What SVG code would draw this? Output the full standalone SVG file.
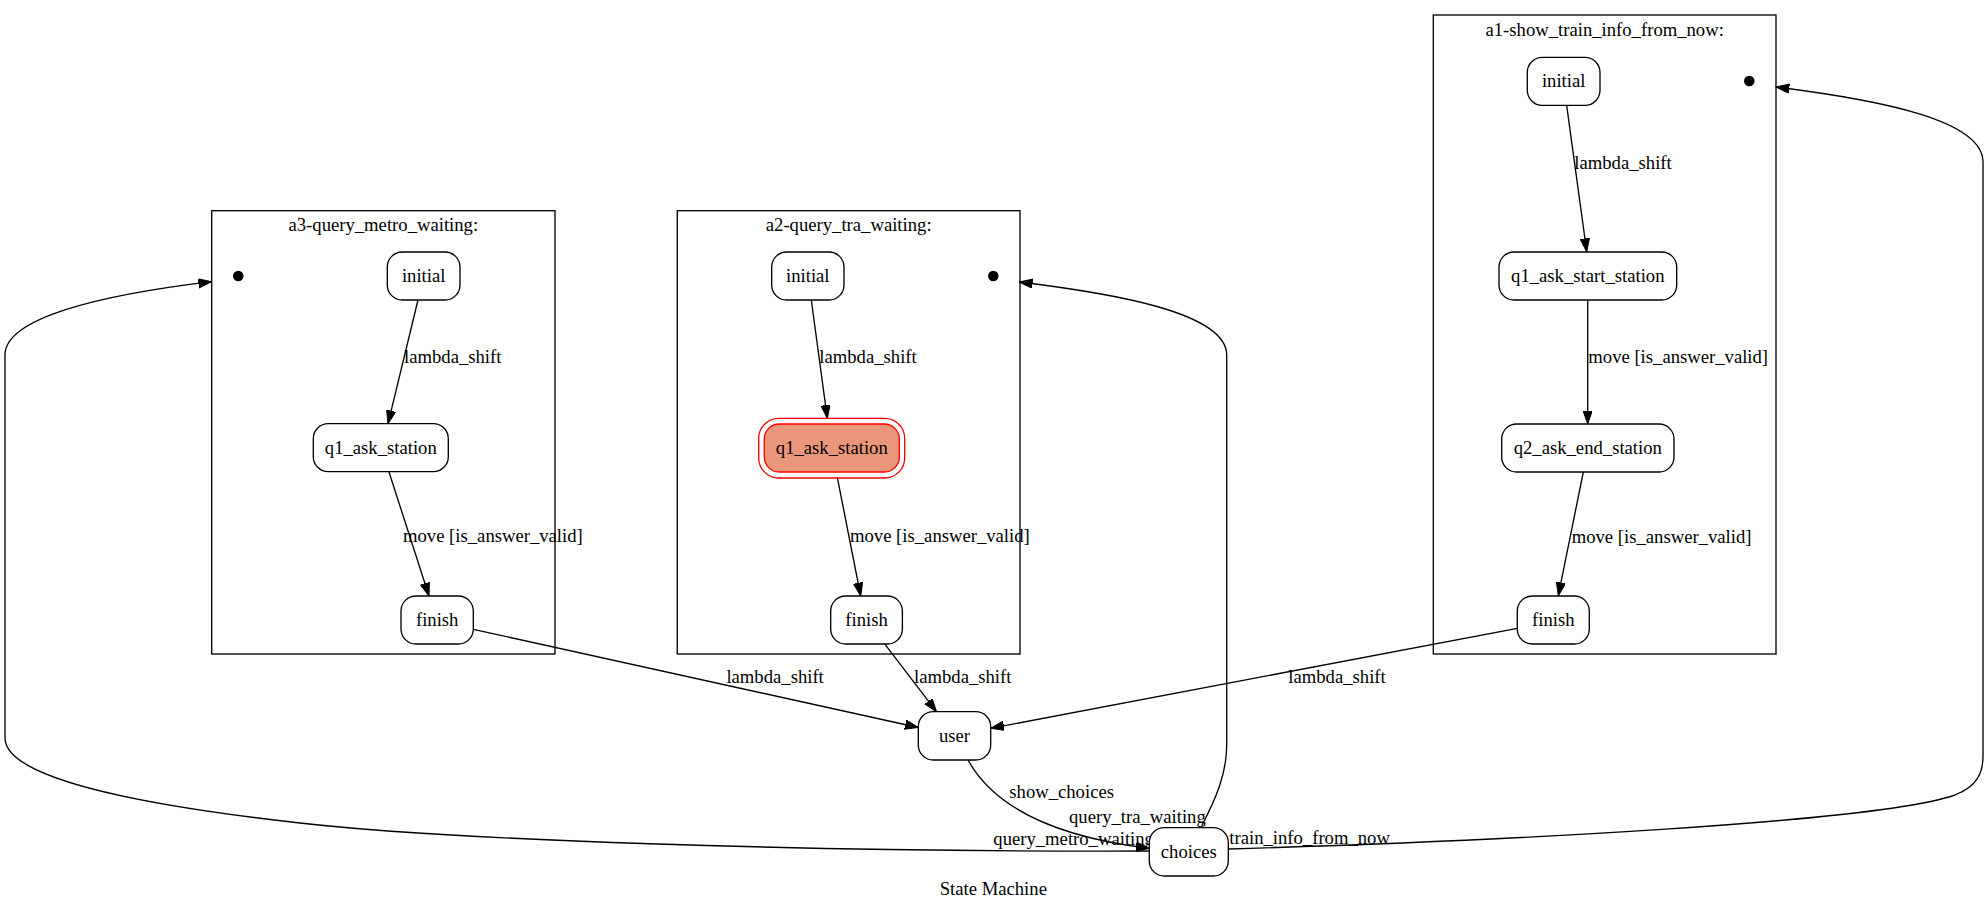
<svg xmlns="http://www.w3.org/2000/svg" width="1988" height="912" viewBox="0 0 1988 912">
<style>
text{font-family:"Liberation Serif","Times New Roman",serif;font-size:18.67px;fill:#000}
.c{text-anchor:middle}
.cl{fill:none;stroke:#000;stroke-width:1.33}
.n{fill:#fff;stroke:#000;stroke-width:1.33}
.e{fill:none;stroke:#000;stroke-width:1.33;marker-end:url(#arr)}
.l{fill:none;stroke:#000;stroke-width:1.33}
</style>
<defs>
<marker id="arr" markerUnits="userSpaceOnUse" markerWidth="14" markerHeight="10" refX="13.3" refY="4.67" orient="auto" viewBox="0 0 14 10">
<path d="M0,0 L13.3,4.67 L0,9.33 z" fill="#000" stroke="#000" stroke-width="1"/>
</marker>
</defs>
<rect width="1988" height="912" fill="#fff"/>

<g id="cluster_a3">
<rect class="cl" x="211.7" y="210.7" width="343.3" height="443.3"/>
<text class="c" x="383.3" y="230.5">a3-query_metro_waiting:</text>
</g>
<g id="cluster_a2">
<rect class="cl" x="677.3" y="210.7" width="342.7" height="443.3"/>
<text class="c" x="848.7" y="230.5">a2-query_tra_waiting:</text>
</g>
<g id="cluster_a1">
<rect class="cl" x="1433.3" y="15" width="342.7" height="639"/>
<text class="c" x="1604.7" y="35.5">a1-show_train_info_from_now:</text>
</g>

<g id="connectors">
<path class="e" d="M418,300 L388,423.7"/>
<text x="404" y="363">lambda_shift</text>
<path class="e" d="M389,472 L429,596"/>
<text x="403" y="542">move [is_answer_valid]</text>

<path class="e" d="M811.3,300 L827.3,418.3"/>
<text x="819.3" y="363">lambda_shift</text>
<path class="e" d="M837.3,477.3 L860.7,596"/>
<text x="850" y="542">move [is_answer_valid]</text>

<path class="e" d="M1566.7,105.7 L1586.7,251.7"/>
<text x="1574.3" y="169.3">lambda_shift</text>
<path class="e" d="M1587.7,300 L1587.7,424"/>
<text x="1588.3" y="363.3">move [is_answer_valid]</text>
<path class="e" d="M1583.3,472 L1558.3,595.7"/>
<text x="1571.7" y="543.3">move [is_answer_valid]</text>

<path class="e" d="M473.3,629.3 L918.3,727.5"/>
<text x="726.4" y="682.7">lambda_shift</text>
<path class="e" d="M885,644.3 L936.5,711.7"/>
<text x="914" y="682.7">lambda_shift</text>
<path class="e" d="M1517.3,628.3 L990.7,728.3"/>
<text x="1288.3" y="682.7">lambda_shift</text>

<path class="e" d="M968,760 C990,800 1040,835 1149.3,848.3"/>
<text x="1009.3" y="798.3">show_choices</text>

<path class="e" d="M1201.7,826 C1215,800 1226.7,775 1226.7,745 L1226.7,355 C1226.7,312 1110,293 1019.3,282"/>
<text x="1069" y="822.7">query_tra_waiting</text>

<path class="e" d="M1149.3,851 C800,852 450,840 300,823 C120,803 5,775 5,738 L5,355 C5,318 100,295 211.7,281.7"/>
<text x="993.3" y="845">query_metro_waiting</text>

<path class="e" d="M1228.7,849 C1500,841 1880,822 1955,795 C1978,786 1983,772 1983,756 L1983,162 C1983,120 1880,100 1776,87"/>
<text x="1229.3" y="844">train_info_from_now</text>
</g>

<g id="a3_dot"><circle cx="238.3" cy="276" r="5.3" fill="#000"/></g>
<g id="a3_initial"><rect class="n" x="387.3" y="252" width="72.7" height="48" rx="15"/><text class="c" x="423.7" y="282">initial</text></g>
<g id="a3_q1_ask_station"><rect class="n" x="313.3" y="423.7" width="135" height="48" rx="15"/><text class="c" x="380.8" y="453.7">q1_ask_station</text></g>
<g id="a3_finish"><rect class="n" x="401" y="596" width="72.3" height="48" rx="15"/><text class="c" x="437.2" y="626">finish</text></g>

<g id="a2_dot"><circle cx="993.3" cy="276" r="5.3" fill="#000"/></g>
<g id="a2_initial"><rect class="n" x="771.7" y="252" width="72.3" height="48" rx="15"/><text class="c" x="807.8" y="282">initial</text></g>
<g id="a2_q1_ask_station">
<rect x="758.7" y="418.3" width="146" height="59.7" rx="20" fill="none" stroke="#f00" stroke-width="1.33"/>
<rect x="764.3" y="424" width="135" height="48" rx="15" fill="#E9967A" stroke="#f00" stroke-width="1.33"/>
<text class="c" x="831.8" y="454">q1_ask_station</text>
</g>
<g id="a2_finish"><rect class="n" x="830.7" y="596" width="71.7" height="48" rx="15"/><text class="c" x="866.5" y="626">finish</text></g>

<g id="a1_dot"><circle cx="1749.3" cy="81" r="5.3" fill="#000"/></g>
<g id="a1_initial"><rect class="n" x="1527.3" y="57.3" width="72.7" height="48" rx="15"/><text class="c" x="1563.7" y="87.3">initial</text></g>
<g id="a1_q1_ask_start_station"><rect class="n" x="1499" y="252" width="177.7" height="48" rx="15"/><text class="c" x="1587.8" y="282">q1_ask_start_station</text></g>
<g id="a1_q2_ask_end_station"><rect class="n" x="1501.7" y="424" width="172.3" height="48" rx="15"/><text class="c" x="1587.8" y="454">q2_ask_end_station</text></g>
<g id="a1_finish"><rect class="n" x="1517.3" y="596" width="72" height="48" rx="15"/><text class="c" x="1553.3" y="626">finish</text></g>

<g id="user"><rect class="n" x="918.3" y="711.7" width="72.4" height="48.3" rx="15"/><text class="c" x="954.5" y="742">user</text></g>
<g id="choices"><rect class="n" x="1149.3" y="827.7" width="79" height="48.3" rx="15"/><text class="c" x="1188.8" y="858">choices</text></g>

<g id="graph_label"><text class="c" x="993.3" y="895">State Machine</text></g>
</svg>
